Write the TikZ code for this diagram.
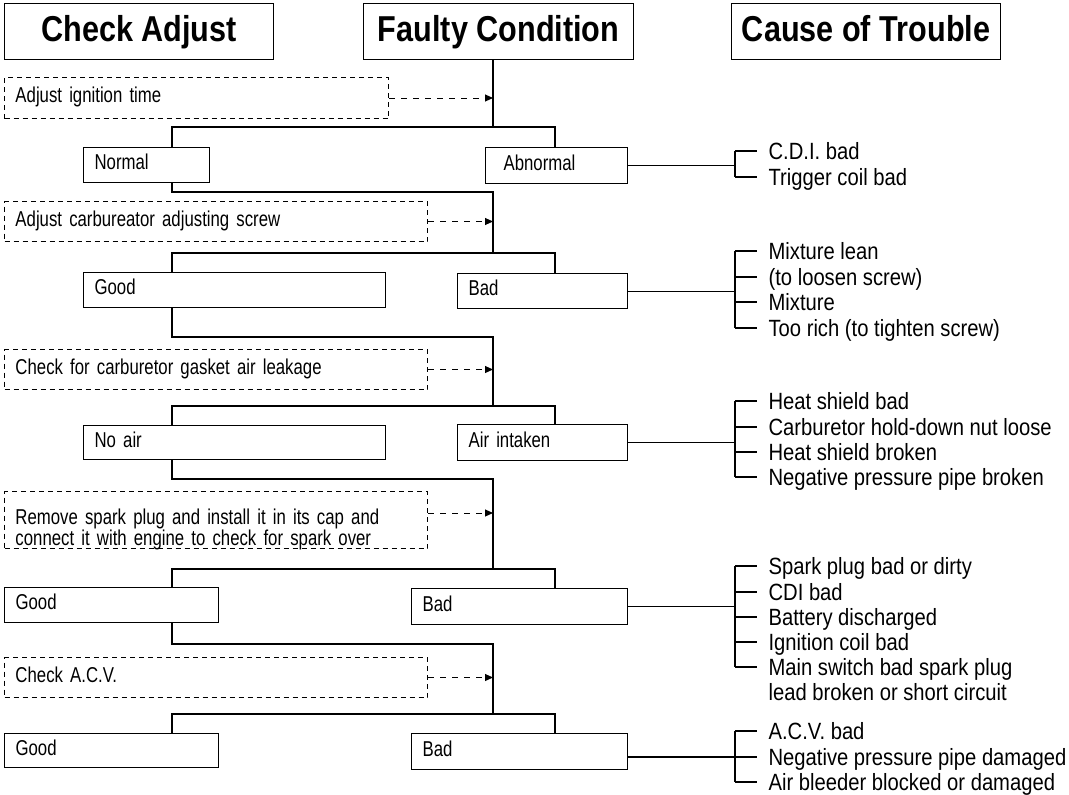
\documentclass[tikz,border=0pt]{standalone}
\usepackage{fontspec}
\setmainfont{Liberation Sans}
\newfontfamily\leftfont{Liberation Sans}[FakeStretch=0.78]
\newfontfamily\rightfont{Liberation Sans}[FakeStretch=0.86]
\newfontfamily\headfont{Liberation Sans}[FakeStretch=0.85]
\usetikzlibrary{arrows.meta}
\begin{document}
\begin{tikzpicture}[x=1pt,y=-1pt,line width=1.2pt,
  hdbox/.style={draw, anchor=north west, inner sep=0pt, minimum height=56pt,
    font=\headfont\fontsize{36}{42}\selectfont\bfseries, text height=27pt, text depth=8pt},
  sbox/.style={draw, anchor=north west, inner xsep=11pt, inner ysep=0pt, align=left,
    font=\leftfont\fontsize{21.5}{21}\selectfont, text height=15.5pt, text depth=6pt},
  dbox/.style={sbox, dash pattern=on 5pt off 4pt, line width=1pt},
  cause/.style={anchor=west, inner sep=0pt, text height=16pt, text depth=0pt,
    font=\rightfont\fontsize{23.5}{25}\selectfont},
  dasharrow/.style={dash pattern=on 6pt off 6pt, line width=1pt,
    -{Triangle[length=8pt,width=7pt]}},
  tick/.style={line width=1.2pt}
]
\path[use as bounding box] (0,0) rectangle (1069,795);

% headers
\node[hdbox, minimum width=269pt] (hA) at (4,3) {Check Adjust};
\node[hdbox, minimum width=270pt] (hF) at (363,3) {Faulty Condition};
\node[hdbox, minimum width=269pt] (hC) at (731,3) {Cause of Trouble};

% dashed check boxes
\node[dbox, text width=362pt, minimum height=41pt] (d1) at (4,77) {Adjust ignition time};
\node[dbox, text width=401pt, minimum height=40pt] (d2) at (4,201) {Adjust carbureator adjusting screw};
\node[dbox, text width=401pt, minimum height=40pt] (d3) at (4,349) {Check for carburetor gasket air leakage};
\node[dbox, text width=401pt, minimum height=57pt] (d4) at (4,491) {Remove spark plug and install it in its cap and\\connect it with engine to check for spark over};
\node[dbox, text width=401pt, minimum height=40pt] (d5) at (4,657) {Check A.C.V.};

% condition boxes
\node[sbox, text width=104pt, minimum height=35pt] (normal) at (83,147) {Normal};
\node[sbox, text width=120pt, minimum height=36pt] (abn) at (485,147) {\hspace*{7pt}Abnormal};
\node[sbox, text width=280pt, minimum height=35pt] (good1) at (83,272) {Good};
\node[sbox, text width=148pt, minimum height=35pt] (bad1) at (457,273) {Bad};
\node[sbox, text width=280pt, minimum height=34pt] (noair) at (83,425) {No air};
\node[sbox, text width=148pt, minimum height=36pt] (airin) at (457,424) {Air intaken};
\node[sbox, text width=192pt, minimum height=35pt] (good2) at (4,587) {Good};
\node[sbox, text width=194pt, minimum height=36pt] (bad2) at (411,588) {Bad};
\node[sbox, text width=192pt, minimum height=34pt] (good3) at (4,733) {Good};
\node[sbox, text width=194pt, minimum height=36pt] (bad3) at (411,733) {Bad};

% helper coordinates
\coordinate (tx) at (493,0);
\coordinate (lx) at (172,0);
\coordinate (rx) at (555,0);
\coordinate (bx) at (735,0);
\coordinate (j1) at (493,127);
\coordinate (k1) at (493,192);
\coordinate (j2) at (493,253);
\coordinate (k2) at (493,337);
\coordinate (j3) at (493,406);
\coordinate (k3) at (493,479);
\coordinate (j4) at (493,569);
\coordinate (k4) at (493,644);
\coordinate (j5) at (493,714);
\coordinate (a4) at (493,513);

% flow connectors
\draw (hF.south -| tx) -- (j1);
\draw (normal.north -| lx) |- (j1) -| (abn.north -| rx);
\draw (normal.south -| lx) |- (k1) -- (j2);
\draw (good1.north -| lx) |- (j2) -| (bad1.north -| rx);
\draw (good1.south -| lx) |- (k2) -- (j3);
\draw (noair.north -| lx) |- (j3) -| (airin.north -| rx);
\draw (noair.south -| lx) |- (k3) -- (j4);
\draw (good2.north -| lx) |- (j4) -| (bad2.north -| rx);
\draw (good2.south -| lx) |- (k4) -- (j5);
\draw (good3.north -| lx) |- (j5) -| (bad3.north -| rx);

% dashed arrows
\draw[dasharrow] (d1.east) -- (d1.east -| tx);
\draw[dasharrow] (d2.east) -- (d2.east -| tx);
\draw[dasharrow] (d3.east) -- (d3.east -| tx);
\draw[dasharrow] (d4.east |- a4) -- (a4);
\draw[dasharrow] (d5.east) -- (d5.east -| tx);

% causes group 1
\node[cause] (c11) at (768,151) {C.D.I. bad};
\node[cause] (c12) at (768,177) {Trigger coil bad};
% group 2
\node[cause] (c21) at (768,251) {Mixture lean};
\node[cause] (c22) at (768,277) {(to loosen screw)};
\node[cause] (c23) at (768,302) {Mixture};
\node[cause] (c24) at (768,328) {Too rich (to tighten screw)};
% group 3
\node[cause] (c31) at (768,401) {Heat shield bad};
\node[cause] (c32) at (768,427) {Carburetor hold-down nut loose};
\node[cause] (c33) at (768,452) {Heat shield broken};
\node[cause] (c34) at (768,477) {Negative pressure pipe broken};
% group 4
\node[cause] (c41) at (768,566) {Spark plug bad or dirty};
\node[cause] (c42) at (768,592) {CDI bad};
\node[cause] (c43) at (768,617) {Battery discharged};
\node[cause] (c44) at (768,642) {Ignition coil bad};
\node[cause] (c45) at (768,667) {Main switch bad spark plug};
\node[cause] (c46) at (768,692) {lead broken or short circuit};
% group 5
\node[cause] (c51) at (768,731) {A.C.V. bad};
\node[cause] (c52) at (768,757) {Negative pressure pipe damaged};
\node[cause] (c53) at (768,782) {Air bleeder blocked or damaged};

% box to bracket lines
\draw (abn.east) -- (abn.east -| bx);
\draw (bad1.east) -- (bad1.east -| bx);
\draw (airin.east) -- (airin.east -| bx);
\draw (bad2.east) -- (bad2.east -| bx);
\draw (bad3.east |- c52.west) -- (c52.west -| bx);

% brackets
\draw (c11.west -| bx) -- (c12.west -| bx);
\draw (c21.west -| bx) -- (c24.west -| bx);
\draw (c31.west -| bx) -- (c34.west -| bx);
\draw (c41.west -| bx) -- (c45.west -| bx);
\draw (c51.west -| bx) -- (c53.west -| bx);

% ticks
\foreach \c in {c11,c12,c21,c22,c23,c24,c31,c32,c33,c34,c41,c42,c43,c44,c45,c51,c52,c53}
  \draw[tick] (\c.west -| bx) -- ([xshift=-11pt]\c.west);
\end{tikzpicture}
\end{document}
